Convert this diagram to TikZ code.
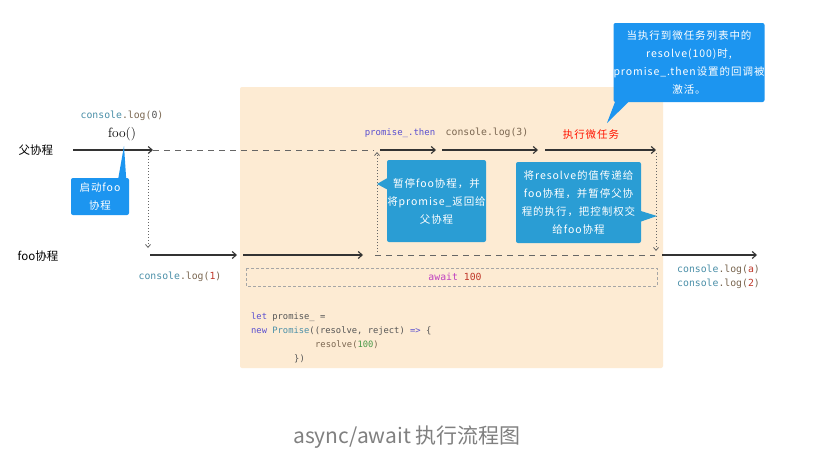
\documentclass[tikz,border=0pt]{standalone}
\usepackage{fontspec}
\usetikzlibrary{arrows.meta,calc}
\newfontfamily\cjk{Noto Sans CJK SC}
\newfontfamily\cjkwide[LetterSpace=9]{Noto Sans CJK SC}
\newfontfamily\mono{DejaVu Sans Mono}
\definecolor{paper}{HTML}{FDEBD3}
\definecolor{linec}{HTML}{333333}
\definecolor{dashc}{HTML}{666666}
\definecolor{bubbleA}{HTML}{1C95F0}
\definecolor{bubbleB}{HTML}{2A9DD4}
\definecolor{cteal}{HTML}{4A8FA8}
\definecolor{cbrown}{HTML}{7A6650}
\definecolor{cred}{HTML}{C0392B}
\definecolor{cpurple}{HTML}{5A4FD0}
\definecolor{cgray}{HTML}{555555}
\definecolor{cgreen}{HTML}{4A9A4A}
\definecolor{cmagenta}{HTML}{C040C0}
\definecolor{capc}{HTML}{808080}
\begin{document}
\begin{tikzpicture}[x=1pt,y=-1pt,
  flow/.style={draw=linec, line width=1.1pt,
    -{Straight Barb[length=4pt,width=7pt,line width=1.1pt]}},
  idle/.style={draw=dashc, line width=0.9pt, dash pattern=on 6pt off 5pt},
  hop/.style={draw=dashc, line width=0.9pt, dash pattern=on 1pt off 2pt,
    -{Straight Barb[length=3pt,width=5pt,line width=0.8pt]}},
  bubble/.style={rounded corners=2pt, text=white, align=center, inner sep=0pt,
    font=\cjkwide\fontsize{10.5}{18}\selectfont},
  code/.style={inner sep=0pt, font=\mono\fontsize{9.8}{12}\selectfont},
  src/.style={inner sep=0pt, anchor=west, font=\mono\fontsize{8.8}{12}\selectfont},
  lane/.style={inner sep=0pt, font=\cjk\fontsize{11.5}{14}\selectfont}]
\useasboundingbox (0,0) rectangle (820,471);
\fill[white] (0,0) rectangle (820,471);

% foo coroutine body area
\fill[paper, rounded corners=2pt] (240,87) rectangle (663,368);
\draw[draw=gray!70, line width=0.6pt, dash pattern=on 3pt off 2pt] (246,268) rectangle (657,286);

% lane labels
\node[lane] (parent) at (36,150) {父协程};
\node[lane] (child) at (38,256) {foo协程};

% parent coroutine timeline
\coordinate (p0) at (73,150);
\coordinate (p1) at (153,150);
\coordinate (p2) at (374,150);
\coordinate (p3) at (380,150);
\coordinate (p4) at (436,150);
\coordinate (p5) at (442,150);
\coordinate (p6) at (538,150);
\coordinate (p7) at (545,150);
\coordinate (p8) at (656,150);
\draw[flow] (p0) -- (p1);
\draw[idle] (p1) -- (p2);
\draw[flow] (p3) -- (p4);
\draw[flow] (p5) -- (p6);
\draw[flow] (p7) -- (p8);

% foo coroutine timeline
\coordinate (f0) at (150,255);
\coordinate (f1) at (237,255);
\coordinate (f2) at (243,255);
\coordinate (f3) at (363,255);
\coordinate (f4) at (375,255);
\coordinate (f5) at (655,255);
\coordinate (f6) at (662,255);
\coordinate (f7) at (757,255);
\draw[flow] (f0) -- (f1);
\draw[flow] (f2) -- (f3);
\draw[idle] (f4) -- (f5);
\draw[flow] (f6) -- (f7);

% control hand-overs
\coordinate (h1a) at (148,153);
\coordinate (h1b) at (148,248);
\coordinate (h2a) at (377,252);
\coordinate (h2b) at (377,152);
\coordinate (h3a) at (656,153);
\coordinate (h3b) at (656,251);
\draw[hop] (h1a) -- (h1b);
\draw[hop] (h2a) -- (h2b);
\draw[hop] (h3a) -- (h3b);

% labels on the timelines
\node[code] (log0) at (122,116) {\color{cteal}console\color{cbrown}.log(\color{cgray}0\color{cbrown})};
\node[inner sep=0pt, font=\fontsize{13.5}{15}\selectfont] (foocall) at (122,134) {foo()};
\node[code] (log1) at (180,277) {\color{cteal}console\color{cbrown}.log(\color{cred}1\color{cbrown})};
\node[code, font=\mono\fontsize{9}{12}\selectfont, text=cpurple] (then) at (400,133) {promise\_.then};
\node[code, text=cbrown] (log3) at (487,133) {console.log(3)};
\node[inner sep=0pt, font=\cjkwide\fontsize{10.5}{12}\selectfont, text=red!85!orange] (micro) at (591,135) {执行微任务};
\node[code] (await) at (455,277) {\color{cmagenta}await \color{cred}100};
\node[code, anchor=west] (loga) at (677,270) {\color{cteal}console\color{cbrown}.log(\color{cred}a\color{cbrown})};
\node[code, anchor=west] (log2) at (677,284) {\color{cteal}console\color{cbrown}.log(\color{cred}2\color{cbrown})};

% promise source
\node[src] (s1) at (251,317) {\color{cpurple}let \color{cgray}promise\_ =};
\node[src] (s2) at (251,331) {\color{cpurple}new \color{cteal}Promise\color{cgray}((resolve, reject) \color{cpurple}=> \color{cgray}\{};
\node[src] (s3) at (315,345) {\color{cbrown}resolve(\color{cgreen}100\color{cbrown})};
\node[src] (s4) at (294,359) {\color{cgray}\})};

% callouts
\node[bubble, fill=bubbleA, minimum width=58pt, minimum height=37pt] (c1) at (100,196.5) {启动foo\\协程};
\fill[bubbleA] ($(c1.north east)+(-11,1)$) -- (124,146) -- ($(c1.north east)+(-3,1)$) -- cycle;

\node[bubble, fill=bubbleB, minimum width=99pt, minimum height=82pt] (c2) at (436.5,201) {暂停foo协程，并\\将promise\_返回给\\父协程};
\fill[bubbleB] ($(c2.north west)+(1,18)$) -- (377,184) -- ($(c2.north west)+(1,30)$) -- cycle;

\node[bubble, fill=bubbleB, minimum width=125pt, minimum height=81pt] (c3) at (578.5,202.5) {将resolve的值传递给\\foo协程，并暂停父协\\程的执行，把控制权交\\给foo协程};
\fill[bubbleB] ($(c3.north east)+(-1,49)$) -- (657,216) -- ($(c3.north east)+(-1,60)$) -- cycle;

\node[bubble, fill=bubbleA, minimum width=146pt, minimum height=79pt] (c4) at (689,62.5) {当执行到微任务列表中的\\resolve(100)时,\\promise\_.then设置的回调被\\激活。};
\fill[bubbleA] ($(c4.south west)+(2,-1)$) -- (607,123) -- ($(c4.south west)+(16,-1)$) -- cycle;

% caption
\node[inner sep=0pt, text=capc, font=\cjk\fontsize{21}{24}\selectfont] (caption) at (407,437) {async/await 执行流程图};
\end{tikzpicture}
\end{document}
